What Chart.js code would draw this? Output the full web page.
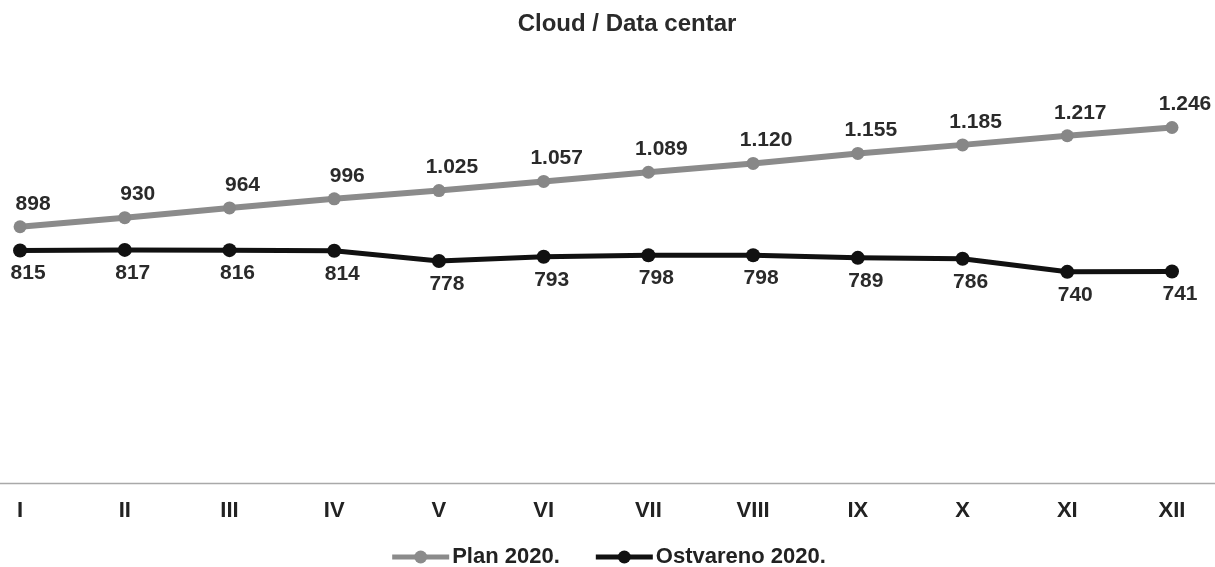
<!DOCTYPE html>
<html>
<head>
<meta charset="utf-8">
<title>Cloud / Data centar</title>
<script src="https://cdn.jsdelivr.net/npm/chart.js@4.4.0/dist/chart.umd.min.js"></script>
<style>
    html, body { margin: 0; padding: 0; background: #fff; }
</style>
</head>
<body>
<canvas id="myChartLine" width="1215" height="567"></canvas>
<script>
let months = ['I', 'II', 'III', 'IV', 'V', 'VI', 'VII', 'VIII', 'IX', 'X', 'XI', 'XII'];
let planValues = [898, 930, 964, 996, 1025, 1057, 1089, 1120, 1155, 1185, 1217, 1246];
let actualValues = [815, 817, 816, 814, 778, 793, 798, 798, 789, 786, 740, 741];

let chartTitle = 'Cloud / Data centar';
let planLabel = 'Plan 2020.';
let actualLabel = 'Ostvareno 2020.';

const fontFamily = 'Arial, "Liberation Sans", sans-serif';

// 1246 -> "1.246"
function formatValue(v) {
    if (v < 1000) {
        return String(v);
    }
    return Math.floor(v / 1000) + '.' + String(v % 1000).padStart(3, '0');
}

// title, baseline, value labels and legend drawn on the chart canvas
const extrasPlugin = {
    id: 'extras',
    beforeDatasetsDraw(chart) {
        let ctx = chart.ctx;
        let y = Math.round(chart.scales.y.getPixelForValue(0)) + 0.5;
        ctx.save();
        ctx.strokeStyle = '#a9a9a9';
        ctx.lineWidth = 1.5;
        ctx.beginPath();
        ctx.moveTo(0, y);
        ctx.lineTo(chart.width, y);
        ctx.stroke();
        ctx.restore();
    },
    afterDatasetsDraw(chart) {
        let ctx = chart.ctx;
        ctx.save();
        ctx.font = 'bold 21px ' + fontFamily;
        ctx.fillStyle = '#2a2a2a';
        ctx.textAlign = 'center';
        ctx.textBaseline = 'middle';
        chart.data.datasets.forEach((ds, i) => {
            let meta = chart.getDatasetMeta(i);
            meta.data.forEach((pt, idx) => {
                ctx.fillText(formatValue(ds.data[idx]), pt.x + ds.labelShift.x, pt.y + ds.labelShift.y);
            });
        });
        ctx.restore();
    },
    afterDraw(chart) {
        let ctx = chart.ctx;
        ctx.save();

        ctx.font = 'bold 24px ' + fontFamily;
        ctx.fillStyle = '#2a2a2a';
        ctx.textAlign = 'center';
        ctx.textBaseline = 'middle';
        ctx.fillText(chartTitle, 627, 24);

        // legend: line + marker, then the series name
        ctx.font = 'bold 22px ' + fontFamily;
        ctx.textAlign = 'left';
        let markerW = 57;
        let gap = 3;
        let itemGap = 36;
        let items = chart.data.datasets.map(ds => ({
            text: ds.label,
            color: ds.borderColor,
            width: markerW + gap + ctx.measureText(ds.label).width
        }));
        let total = items.reduce((s, it) => s + it.width, 0) + itemGap * (items.length - 1);
        let x = 609 - total / 2;
        let y = 557;
        items.forEach(it => {
            ctx.strokeStyle = it.color;
            ctx.lineWidth = 5;
            ctx.beginPath();
            ctx.moveTo(x, y);
            ctx.lineTo(x + markerW, y);
            ctx.stroke();
            ctx.fillStyle = it.color;
            ctx.beginPath();
            ctx.arc(x + markerW / 2, y, 6.5, 0, Math.PI * 2);
            ctx.fill();
            ctx.fillStyle = '#222';
            ctx.fillText(it.text, x + markerW + gap, y);
            x += it.width + itemGap;
        });

        ctx.restore();
    }
};

let data = {
    labels: months,
    datasets: [{
        label: planLabel,
        data: planValues,
        borderColor: '#8b8b8b',
        backgroundColor: '#8b8b8b',
        pointBackgroundColor: '#878787',
        pointBorderColor: '#878787',
        borderWidth: 6,
        pointRadius: 6.5,
        pointBorderWidth: 0,
        labelShift: { x: 13, y: -23 },
        clip: false
    }, {
        label: actualLabel,
        data: actualValues,
        borderColor: '#111111',
        backgroundColor: '#111111',
        pointBackgroundColor: '#111111',
        pointBorderColor: '#111111',
        borderWidth: 5,
        pointRadius: 7,
        pointBorderWidth: 0,
        labelShift: { x: 8, y: 23 },
        clip: false
    }]
};

let configLine = {
    type: 'line',
    data,
    options: {
        responsive: false,
        animation: false,
        layout: {
            padding: { top: 55, left: 20, right: 43, bottom: 28 }
        },
        plugins: {
            legend: { display: false },
            title: { display: false },
            tooltip: { enabled: false }
        },
        scales: {
            x: {
                offset: false,
                grid: { display: false, drawTicks: false },
                border: { display: false },
                ticks: {
                    color: '#222',
                    padding: 17,
                    maxRotation: 0,
                    autoSkip: false,
                    font: { family: fontFamily, size: 22, weight: 'bold', lineHeight: 1 }
                }
            },
            y: {
                display: false,
                min: 0,
                max: 1500
            }
        }
    },
    plugins: [extrasPlugin]
};

let myChartLine = new Chart(
    document.getElementById('myChartLine'),
    configLine
);
</script>
</body>
</html>
